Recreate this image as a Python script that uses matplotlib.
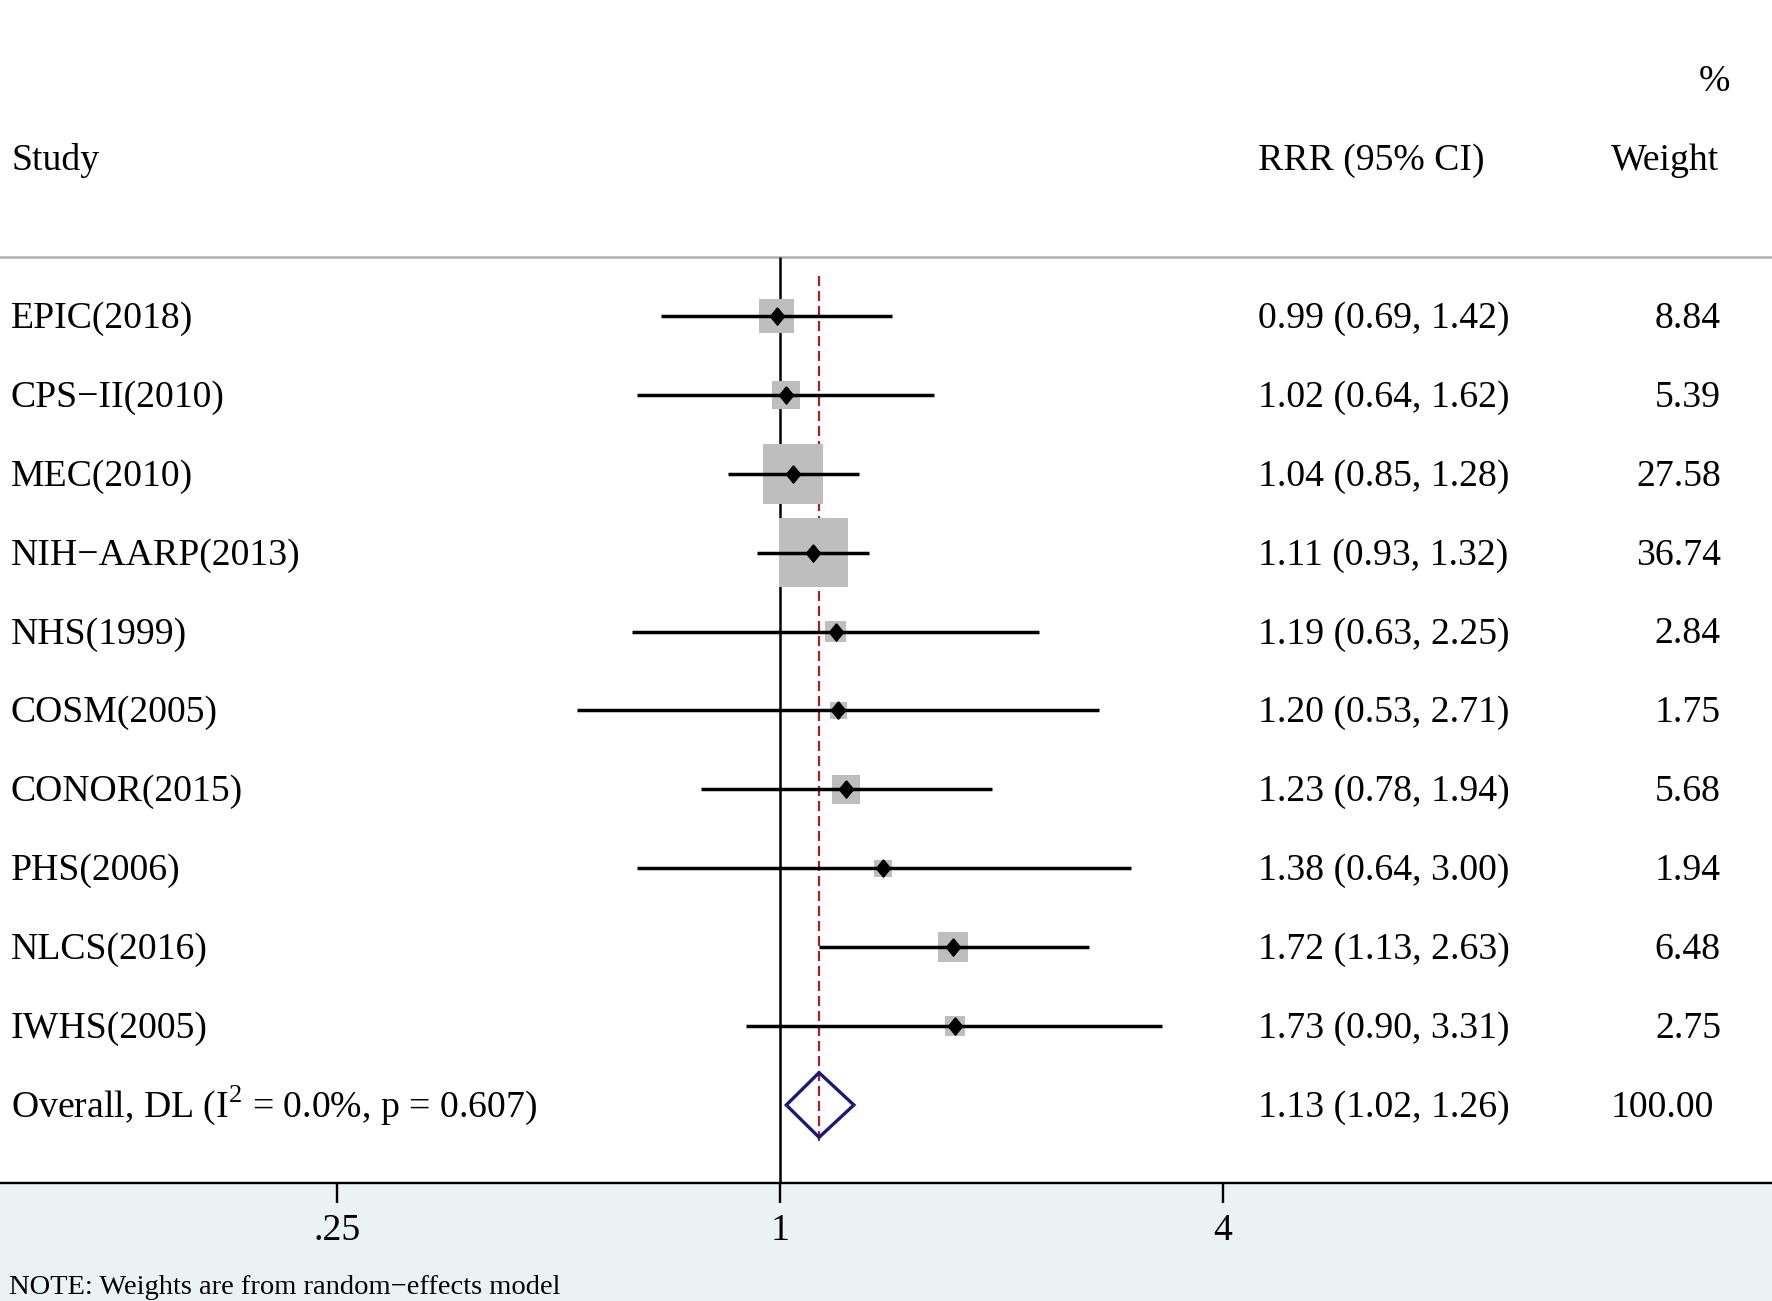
import matplotlib
matplotlib.use("Agg")
import matplotlib.pyplot as plt
import matplotlib.transforms as mtransforms
from matplotlib.ticker import NullLocator
import numpy as np

# ── Data ─────────────────────────────────────────────────────────────────────
STUDIES = ["EPIC(2018)", "CPS\u2212II(2010)", "MEC(2010)", "NIH\u2212AARP(2013)", "NHS(1999)",
           "COSM(2005)", "CONOR(2015)", "PHS(2006)", "NLCS(2016)", "IWHS(2005)"]
RRR = [0.99, 1.02, 1.04, 1.11, 1.19, 1.20, 1.23, 1.38, 1.72, 1.73]
LOWER = [0.69, 0.64, 0.85, 0.93, 0.63, 0.53, 0.78, 0.64, 1.13, 0.90]
UPPER = [1.42, 1.62, 1.28, 1.32, 2.25, 2.71, 1.94, 3.00, 2.63, 3.31]
WEIGHTS = [8.84, 5.39, 27.58, 36.74, 2.84, 1.75, 5.68, 1.94, 6.48, 2.75]

OVERALL_LABEL = "Overall, DL (I$^{\\mathrm{2}}$ = 0.0%, p = 0.607)"
OVERALL_RRR = 1.13
OVERALL_LOWER = 1.02
OVERALL_UPPER = 1.26
OVERALL_WEIGHT = 100.00

X_TICKS = [0.25, 1, 4]
X_TICK_LABELS = [".25", "1", "4"]
NOTE = "NOTE: Weights are from random\u2212effects model"

# ── Layout (pixels of the 1772x1301 output) ─────────────────────────────────
W, H = 1772, 1301
AXIS_PX = 1183          # y of the bottom axis line
ROW0_PX = 316.0         # y of the first study row
ROW_PX = 78.9           # row spacing
X1_PX = 780             # x of RRR = 1
LOG2_PX = 221.5         # pixels per doubling
HEADER_LINE_PX = 257

FS = 27.2
BASE_OFF = 0.15         # baseline offset (rows) so caps are centred on the row
BAND = "#EAF2F3"
SQUARE_GRAY = "#BEBEBE"
NAVY = "#1B1B72"
RED = "#A0232E"

plt.rcParams["font.family"] = ["Liberation Serif", "DejaVu Serif"]
plt.rcParams["mathtext.fontset"] = "custom"
plt.rcParams["mathtext.rm"] = "Liberation Serif"
plt.rcParams["lines.scale_dashes"] = False

fig = plt.figure(figsize=(W / 100, H / 100), dpi=100, facecolor=BAND)
ax = fig.add_axes([0, (H - AXIS_PX) / H, 1, AXIS_PX / H])
ax.set_facecolor("white")

ax.set_xscale("log", base=2)
ax.set_xlim(2 ** (-X1_PX / LOG2_PX), 2 ** ((W - X1_PX) / LOG2_PX))
ax.set_ylim((AXIS_PX - ROW0_PX) / ROW_PX, -ROW0_PX / ROW_PX)

for side in ("top", "left", "right"):
    ax.spines[side].set_visible(False)
ax.spines["bottom"].set_linewidth(1.7)
ax.set_yticks([])
ax.set_xticks(X_TICKS)
ax.set_xticklabels(X_TICK_LABELS)
ax.xaxis.set_minor_locator(NullLocator())
ax.tick_params(axis="x", direction="out", length=14.4, width=1.7, pad=7.5, labelsize=FS)

header_y = (HEADER_LINE_PX - ROW0_PX) / ROW_PX
bottom_y = ax.get_ylim()[0]

# header separator and null line
ax.axhline(header_y, color="#B0B0B0", lw=1.8)
ax.vlines(1, header_y, bottom_y, color="black", lw=1.8)

# dashed overall line
n = len(STUDIES)
ax.plot([OVERALL_RRR, OVERALL_RRR], [-0.51, n + 0.47], color=RED, lw=1.6,
        dashes=(7.2, 3.6))

rows = np.arange(n)

# CI lines
ax.hlines(rows, LOWER, UPPER, color="black", lw=2.5, zorder=3)

# weight squares (side in px scales with sqrt(weight))
w = np.array(WEIGHTS)
side_px = 67 * np.sqrt(w / w.max()) + 2
ax.scatter(RRR, rows, marker="s", s=(side_px * 0.72) ** 2, color=SQUARE_GRAY,
           linewidths=0, zorder=2)

# point estimates
diamond = [(0, 1), (0.82, 0), (0, -1), (-0.82, 0), (0, 1)]
ax.plot(RRR, rows, linestyle="none", marker=diamond, ms=12.5, color="black", zorder=4)

# overall diamond
half = 0.41
ax.fill([OVERALL_LOWER, OVERALL_RRR, OVERALL_UPPER, OVERALL_RRR],
        [n, n - half, n, n + half], fill=False, edgecolor=NAVY, lw=2.4, zorder=4)

# text columns
trans = mtransforms.blended_transform_factory(ax.transAxes, ax.transData)
x_study = 11 / W
x_rrr = 1258 / W
x_weight = 1721 / W

ax.text(x_study, -2 + BASE_OFF, "Study", transform=trans, fontsize=FS, va="baseline")
ax.text(x_rrr, -2 + BASE_OFF, "RRR (95% CI)", transform=trans, fontsize=FS, va="baseline")
ax.text(x_weight - 2 / W, -2 + BASE_OFF, "Weight", transform=trans, fontsize=FS,
        va="baseline", ha="right")
ax.text(1730 / W, -3 + BASE_OFF, "%", transform=trans, fontsize=FS, va="baseline", ha="right")

for i, (name, r, lo, hi, wt) in enumerate(zip(STUDIES, RRR, LOWER, UPPER, WEIGHTS)):
    ax.text(x_study, i + BASE_OFF, name, transform=trans, fontsize=FS, va="baseline")
    ax.text(x_rrr, i + BASE_OFF, f"{r:.2f} ({lo:.2f}, {hi:.2f})", transform=trans,
            fontsize=FS, va="baseline")
    ax.text(x_weight, i + BASE_OFF, f"{wt:.2f}", transform=trans, fontsize=FS,
            va="baseline", ha="right")

ax.text(x_study, n + BASE_OFF, OVERALL_LABEL, transform=trans, fontsize=FS, va="baseline")
ax.text(x_rrr, n + BASE_OFF, f"{OVERALL_RRR:.2f} ({OVERALL_LOWER:.2f}, {OVERALL_UPPER:.2f})",
        transform=trans, fontsize=FS, va="baseline")
ax.text(x_weight - 7 / W, n + BASE_OFF, f"{OVERALL_WEIGHT:.2f}", transform=trans, fontsize=FS,
        va="baseline", ha="right")

fig.text(9 / W, 7 / H, NOTE, fontsize=20.5, va="baseline")

fig.savefig("out.png", dpi=100, facecolor=fig.get_facecolor())
